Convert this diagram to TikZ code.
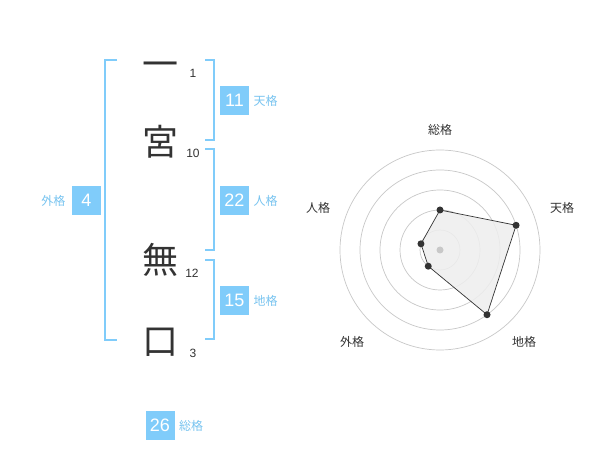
\documentclass[tikz,border=0pt]{standalone}
\usepackage{fontspec}
\usetikzlibrary{calc}
\setmainfont{Liberation Sans}
\newfontfamily\cjk{Noto Sans CJK JP}
\definecolor{kblue}{RGB}{128,204,250}
\definecolor{klabel}{RGB}{120,196,240}
\definecolor{kdark}{RGB}{51,51,51}
\definecolor{kgrid}{RGB}{200,200,200}
\definecolor{kfill}{RGB}{238,238,238}
\begin{document}
\begin{tikzpicture}[x=1pt,y=-1pt,
  bigchar/.style={font=\cjk\fontsize{36}{36}\selectfont, text=kdark, inner sep=0pt, text height=31.7pt, text depth=4.3pt},
  strokenum/.style={font=\fontsize{12}{12}\selectfont, text=kdark, inner sep=0pt},
  valbox/.style={fill=kblue, text=white, font=\fontsize{18}{18}\selectfont, minimum width=29pt, minimum height=29pt, inner sep=0pt},
  vallabel/.style={font=\cjk\fontsize{12}{12}\selectfont, text=klabel, inner sep=0pt},
  bracket/.style={draw=kblue, line width=2pt},
  ring/.style={draw=kgrid, line width=0.7pt},
  axlabel/.style={font=\cjk\fontsize{12}{12}\selectfont, text=kdark, inner sep=0pt},
  vdot/.style={circle, fill=kdark, minimum size=7pt, inner sep=0pt},
]
\useasboundingbox (0,0) rectangle (600,470);
\fill[white] (0,0) rectangle (600,470);

% characters
\node[bigchar] (c1) at (160,64) {一};
\node[bigchar] (c2) at (160,141.5) {宮};
\node[bigchar] (c3) at (160,260) {無};
\node[bigchar] (c4) at (160,341) {口};
\node[strokenum] (n1) at (193,73) {1};
\node[strokenum] (n2) at (193,153) {10};
\node[strokenum] (n3) at (192,273) {12};
\node[strokenum] (n4) at (193,353) {3};

% brackets
\draw[bracket] (117,60) -- (105,60) -- (105,340) -- (117,340);
\draw[bracket] (205,60) -- (214,60) -- (214,140) -- (205,140);
\draw[bracket] (205,149) -- (214,149) -- (214,250) -- (205,250);
\draw[bracket] (205,260) -- (214,260) -- (214,339) -- (205,339);

% values
\node[valbox] (ten) at (234.5,100.5) {11};
\node[vallabel] (tenl) at (265.5,101) {天格};
\node[valbox] (jin) at (234.5,200.5) {22};
\node[vallabel] (jinl) at (265.5,201) {人格};
\node[valbox] (chi) at (234.5,300.5) {15};
\node[vallabel] (chil) at (265.5,301) {地格};
\node[valbox] (gai) at (86.5,200.5) {4};
\node[vallabel] (gail) at (53.5,201) {外格};
\node[valbox] (sou) at (160,425.5) {26};
\node[vallabel] (soul) at (191,426) {総格};

% radar
\coordinate (O) at (440,250);
\foreach \r in {20,40,60,80,100} \draw[ring] (O) circle[radius=\r];
\coordinate (pSou) at ($(O)+(0,-40)$);
\coordinate (pTen) at ($(O)+(-18:80)$);
\coordinate (pChi) at ($(O)+(54:80)$);
\coordinate (pGai) at ($(O)+(126:20)$);
\coordinate (pJin) at ($(O)+(-162:20)$);
\fill[kfill, fill opacity=0.85] (pSou) -- (pTen) -- (pChi) -- (pGai) -- (pJin) -- cycle;
\draw[kdark, line width=0.7pt] (pSou) -- (pTen) -- (pChi) -- (pGai) -- (pJin) -- cycle;
\fill[kgrid] (O) circle[radius=3.5];
\foreach \p in {pSou,pTen,pChi,pGai,pJin} \node[vdot] at (\p) {};

\node[axlabel] (lSou) at (440,130) {総格};
\node[axlabel] (lTen) at (562,208) {天格};
\node[axlabel] (lChi) at (524,342) {地格};
\node[axlabel] (lGai) at (352,342) {外格};
\node[axlabel] (lJin) at (318,208) {人格};
\end{tikzpicture}
\end{document}
